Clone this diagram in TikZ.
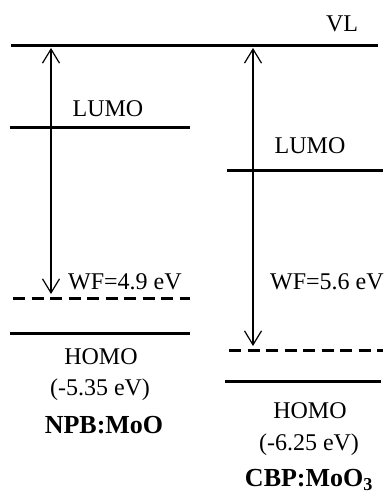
\documentclass[tikz,border=0pt]{standalone}
\usepackage{fontspec}
\setmainfont{Liberation Serif}
\usetikzlibrary{arrows.meta}
\tikzset{
  level/.style={line width=3pt},
  dlevel/.style={line width=3pt, dash pattern=on 12pt off 6.5pt},
  wf/.style={line width=1.2pt, {Straight Barb[length=14pt,width=17pt,line width=1.2pt]}-{Straight Barb[length=14pt,width=17pt,line width=1.2pt]}},
  lab/.style={font=\fontsize{24}{28}\selectfont, inner sep=0pt},
  blab/.style={font=\fontsize{26}{30}\selectfont\bfseries, inner sep=0pt}
}
\begin{document}
\begin{tikzpicture}[x=1pt,y=-1pt]
\useasboundingbox (0,0) rectangle (383,494);
% vacuum level
\coordinate (vl1) at (11,46);
\coordinate (vl2) at (378,46);
\draw[level] (vl1) -- (vl2);
\node[lab] (vl) at (342,24) {VL};
% left material
\coordinate (ll1) at (10,128); \coordinate (ll2) at (190,128);
\draw[level] (ll1) -- (ll2);
\node[lab] (lumoL) at (108,109) {LUMO};
\coordinate (ld1) at (13,298); \coordinate (ld2) at (190,298);
\draw[dlevel] (ld1) -- (ld2);
\coordinate (lh1) at (10,333); \coordinate (lh2) at (190,333);
\draw[level] (lh1) -- (lh2);
\coordinate (la1) at (51,48); \coordinate (la2) at (51,294);
\draw[wf] (la1) -- (la2);
\node[lab, anchor=west] (wfL) at (68,282) {WF=4.9 eV};
\node[lab] (homoL) at (101,357) {HOMO};
\node[lab] (eL) at (100,390) {(-5.35 eV)};
\node[blab] (nL) at (104,425) {NPB:MoO};
% right material
\coordinate (rl1) at (227,171); \coordinate (rl2) at (383,171);
\draw[level] (rl1) -- (rl2);
\node[lab] (lumoR) at (310,146) {LUMO};
\coordinate (rd1) at (229,350); \coordinate (rd2) at (383,350);
\draw[dlevel] (rd1) -- (rd2);
\coordinate (rh1) at (225,381); \coordinate (rh2) at (381,381);
\draw[level] (rh1) -- (rh2);
\coordinate (ra1) at (253,48); \coordinate (ra2) at (253,346);
\draw[wf] (ra1) -- (ra2);
\node[lab, anchor=west] (wfR) at (270,282) {WF=5.6 eV};
\node[lab] (homoR) at (310,411) {HOMO};
\node[lab] (eR) at (309,445) {(-6.25 eV)};
\node[blab] (nR) at (309,480) {CBP:MoO$_\mathbf{3}$};
\end{tikzpicture}
\end{document}
